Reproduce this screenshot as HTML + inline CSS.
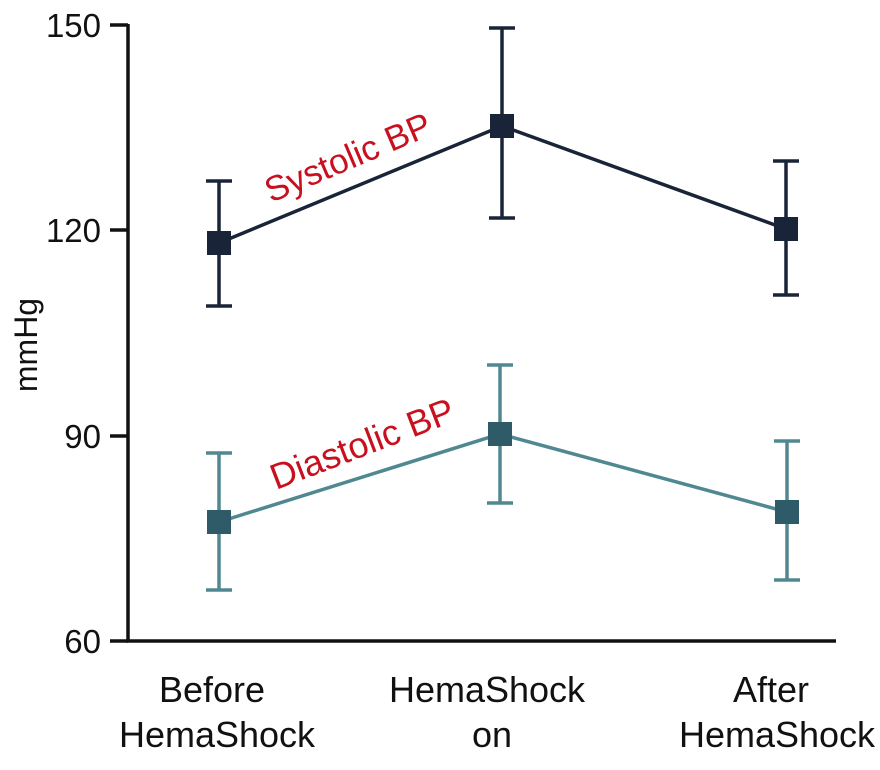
<!DOCTYPE html>
<html><head><meta charset="utf-8"><style>body{margin:0;background:#fff}</style></head><body>
<svg width="880" height="765" xmlns="http://www.w3.org/2000/svg" font-family="Liberation Sans, sans-serif">
<rect width="880" height="765" fill="#fff"/>
<g stroke="#111" stroke-width="3.5" fill="none">
<path d="M128 24 V641 H836"/>
<path d="M110 25 H128 M110 230 H128 M110 436 H128 M110 641 H128"/>
</g>
<g font-size="33" fill="#111" text-anchor="end">
<text x="101" y="37">150</text><text x="101" y="242">120</text><text x="101" y="448">90</text><text x="101" y="653">60</text>
</g>
<text transform="translate(37,345) rotate(-90)" font-size="32" fill="#111" text-anchor="middle">mmHg</text>
<g font-size="36" fill="#111" text-anchor="middle">
<text x="212" y="702">Before</text><text x="217" y="747">HemaShock</text>
<text x="487" y="702">HemaShock</text><text x="492" y="747">on</text>
<text x="771" y="702">After</text><text x="777" y="747">HemaShock</text>
</g>
<g stroke="#1a2438" stroke-width="3.5" fill="none">
<path d="M219 181V306M206 181H232M206 306H232"/>
<path d="M502 28V218M489 28H515M489 218H515"/>
<path d="M786 161V295M773 161H799M773 295H799"/>
<path d="M219 243L502 126L786 229"/>
</g>
<g fill="#1a2438"><rect x="207" y="231" width="24" height="24"/><rect x="490" y="114" width="24" height="24"/><rect x="774" y="217" width="24" height="24"/></g>
<g stroke="#4f8890" stroke-width="3.5" fill="none">
<path d="M219 453V590M206 453H232M206 590H232"/>
<path d="M500 365V503M487 365H513M487 503H513"/>
<path d="M787 441V580M774 441H800M774 580H800"/>
<path d="M219 522L500 434L787 512"/>
</g>
<g fill="#2f5a68"><rect x="207" y="510" width="24" height="24"/><rect x="488" y="422" width="24" height="24"/><rect x="775" y="500" width="24" height="24"/></g>
<text transform="translate(271,203) rotate(-23)" font-size="35" fill="#c8101e">Systolic BP</text>
<text transform="translate(276,490) rotate(-21)" font-size="36" fill="#c8101e">Diastolic BP</text>
</svg>
</body></html>
